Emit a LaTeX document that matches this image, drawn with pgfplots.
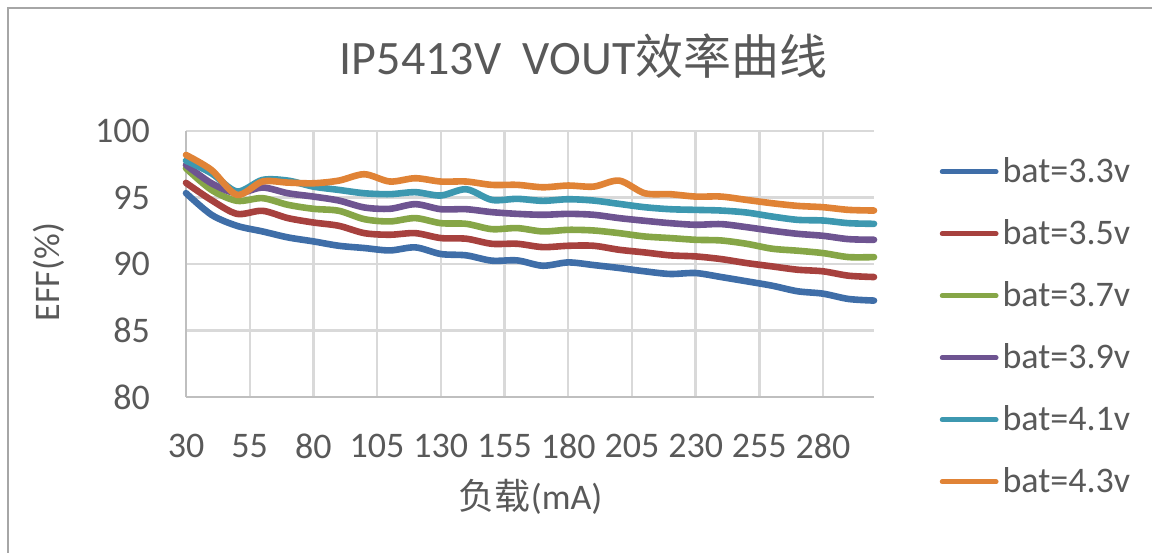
\documentclass[border=0pt]{standalone}
\usepackage{pgfplots}
\pgfplotsset{compat=1.18}
\usepackage{pgfplotstable}
\usepackage{fontspec}
\setmainfont{Carlito}
\newfontfamily\cjk{Noto Sans CJK SC}
\definecolor{textgray}{HTML}{595959}
\definecolor{gridgray}{HTML}{D9D9D9}
\definecolor{axgray}{HTML}{BFBFBF}
\definecolor{framegray}{HTML}{A6A6A6}
\definecolor{cA}{HTML}{3F6EA8}
\definecolor{cB}{HTML}{A7413E}
\definecolor{cC}{HTML}{86A647}
\definecolor{cD}{HTML}{6E5491}
\definecolor{cE}{HTML}{3D98B0}
\definecolor{cF}{HTML}{E08336}
\pgfplotstableread{
x   a     b     c     d     e     f
30  95.33 96.10 97.20 97.45 97.77 98.20
40  93.70 94.80 95.57 96.07 96.82 97.07
50  92.87 93.77 94.75 95.32 95.45 95.20
60  92.45 94.00 94.95 95.75 96.32 96.20
70  92.00 93.45 94.45 95.32 96.27 96.12
80  91.70 93.12 94.15 95.07 95.82 96.07
90  91.37 92.87 94.00 94.77 95.57 96.27
100 91.20 92.32 93.37 94.25 95.32 96.75
110 91.02 92.20 93.20 94.15 95.25 96.20
120 91.25 92.32 93.45 94.50 95.40 96.45
130 90.75 91.95 93.07 94.12 95.15 96.20
140 90.65 91.90 93.02 94.12 95.62 96.20
150 90.25 91.52 92.62 93.90 94.82 95.95
160 90.27 91.52 92.70 93.77 94.90 95.95
170 89.87 91.27 92.45 93.70 94.75 95.77
180 90.12 91.37 92.57 93.77 94.87 95.90
190 89.92 91.37 92.52 93.70 94.77 95.82
200 89.70 91.07 92.32 93.45 94.52 96.27
210 89.45 90.87 92.07 93.25 94.27 95.32
220 89.25 90.65 91.95 93.07 94.12 95.25
230 89.32 90.57 91.82 92.95 94.07 95.07
240 89.02 90.37 91.77 93.00 94.02 95.07
250 88.70 90.07 91.52 92.77 93.87 94.82
260 88.37 89.82 91.15 92.50 93.57 94.57
270 87.95 89.57 91.00 92.27 93.32 94.37
280 87.77 89.45 90.82 92.12 93.27 94.27
290 87.37 89.12 90.52 91.87 93.07 94.07
300 87.25 89.02 90.52 91.82 93.02 94.02
}\datatable
\begin{document}
\begin{tikzpicture}
\useasboundingbox (0,0) rectangle (576pt,276pt);
\draw[framegray, line width=1pt] (3.75pt,-1pt) -- (3.75pt,271.75pt) -- (577pt,271.75pt);
\begin{axis}[
  at={(93pt,77.5pt)}, anchor=south west,
  scale only axis, width=344pt, height=133pt,
  xmin=30, xmax=300, ymin=80, ymax=100,
  xtick={30,55,...,280}, ytick={80,85,...,100},
  grid=major, major grid style={gridgray, line width=1.2pt},
  axis x line*=bottom, axis y line*=left,
  axis line style={axgray, line width=1.3pt, -},
  major tick length=0pt,
  clip=false,
  /pgf/number format/assume math mode=true,
  tick label style={text=textgray, font=\fontsize{18}{21}\selectfont},
  xticklabel style={yshift=-15pt},
  yticklabel style={xshift=-14.5pt},
  label style={text=textgray, font=\fontsize{18}{21}\selectfont},
  xlabel={{\cjk 负载}(mA)},
  xlabel style={at={(axis description cs:0.501,-0.376)}, anchor=center},
  ylabel={EFF(\%)},
  ylabel style={at={(axis description cs:-0.2,0.47)}, anchor=center},
  title={IP5413V\ \ VOUT{\cjk 效率曲线}},
  title style={text=textgray, font=\fontsize{24}{28}\selectfont, at={(axis description cs:0.578,1.236)}, anchor=center},
  legend style={draw=none, fill=none, at={(axis description cs:1.095,0.264)}, anchor=west,
    text=textgray, font=\fontsize{18}{21}\selectfont, row sep=13pt, inner sep=0pt,
    nodes={inner sep=2pt}},
  legend cell align=left,
  legend image code/.code={\draw[line width=2.4pt, line cap=round] (0pt,0pt) -- (27pt,0pt);},
  every axis plot/.append style={line width=3.3pt, smooth, tension=0.5, line cap=round, line join=round},
]
\addplot[cA] table[x=x,y=a] {\datatable};
\addlegendentry{bat=3.3v}
\addplot[cB] table[x=x,y=b] {\datatable};
\addlegendentry{bat=3.5v}
\addplot[cC] table[x=x,y=c] {\datatable};
\addlegendentry{bat=3.7v}
\addplot[cD] table[x=x,y=d] {\datatable};
\addlegendentry{bat=3.9v}
\addplot[cE] table[x=x,y=e] {\datatable};
\addlegendentry{bat=4.1v}
\addplot[cF] table[x=x,y=f] {\datatable};
\addlegendentry{bat=4.3v}
\end{axis}
\end{tikzpicture}
\end{document}
